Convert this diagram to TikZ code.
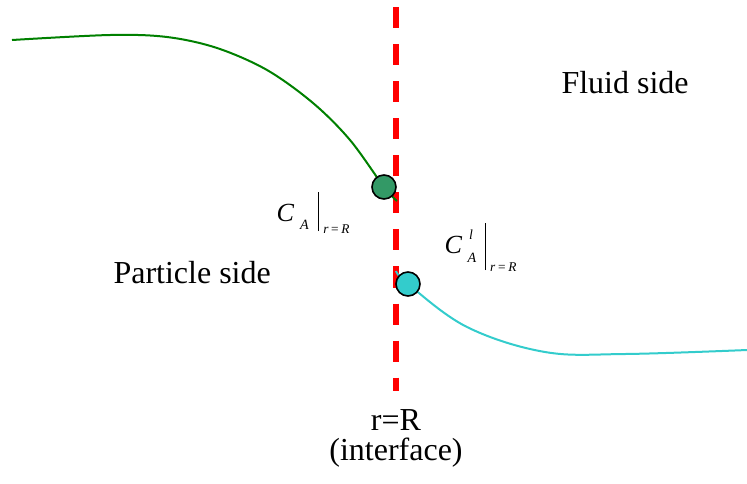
\documentclass[tikz,border=0pt]{standalone}
\usepackage{fontspec}
\setmainfont{Liberation Serif}
\usepackage{tikz}
\usetikzlibrary{positioning}
\definecolor{iface}{HTML}{FF0000}
\definecolor{solidline}{HTML}{008000}
\definecolor{solidfill}{HTML}{339966}
\definecolor{fluidline}{HTML}{33CCCC}

\begin{document}
\begin{tikzpicture}[
  x=0.375pt, y=-0.375pt,
  font=\fontsize{12}{13}\selectfont,
  txt/.style={inner sep=0pt, anchor=base west},
  lab/.style={inner sep=0pt, anchor=base west},
  dot/.style={circle, draw=black, line width=0.6pt, minimum size=9pt, inner sep=0pt},
  profile/.style={line width=0.75pt},
  wall/.style={draw=iface, line width=1.9pt, dash pattern=on 7.9pt off 6pt},
]
\useasboundingbox (0,0) rectangle (747,483);
% interface
\coordinate (top) at (396,7);
\coordinate (bot) at (396,391);
\draw[wall] (top) -- (bot);
% surface points
\coordinate (gs) at (384,187);
\coordinate (ls) at (408,284);
% concentration profiles
\draw[profile, solidline] plot[smooth, tension=0.55] coordinates {(12,40) (110,35) (167,37) (217,48) (267,70) (313,103) (350,140) (gs) (397,201)};
\draw[profile, fluidline] plot[smooth, tension=0.6] coordinates {(396,271) (ls) (467,327) (545,352) (625,354) (747,350)};
\node[dot, fill=solidfill] (csolid) at (gs) {};
\node[dot, fill=fluidline] (cfluid) at (ls) {};
% labels
\node[txt] (fluid) at (561,93) {Fluid side};
\node[txt] (particle) at (113,283) {Particle side};
\node[inner sep=0pt, anchor=base] (rR) at (396,430) {r=R};
\node[inner sep=0pt, anchor=base] (iftext) at (396,460) {(interface)};
\node[lab] (cAs) at (276,221) {\fontsize{9.8}{10}\selectfont\textit{C}\hspace{2.2pt}\raisebox{-3pt}{\fontsize{5.3}{6}\selectfont\textit{A}}\hspace{3.5pt}\raisebox{-3.75pt}{\rule{0.45pt}{14.6pt}}\hspace{1.5pt}\raisebox{-4.5pt}{\fontsize{5}{6}\selectfont\textit{r}\hspace{1pt}=\hspace{1pt}\textit{R}}};
\node[lab] (cAl) at (444,253) {\fontsize{9.8}{10}\selectfont\textit{C}\hspace{2pt}\rlap{\raisebox{5.2pt}{\fontsize{5.2}{6}\selectfont\hspace{0.6pt}\textit{l}}}\raisebox{-3.4pt}{\fontsize{5.3}{6}\selectfont\textit{A}}\hspace{3.3pt}\raisebox{-6.4pt}{\rule{0.45pt}{17.6pt}}\hspace{1.5pt}\raisebox{-6.75pt}{\fontsize{5}{6}\selectfont\textit{r}\hspace{1pt}=\hspace{1pt}\textit{R}}};
\end{tikzpicture}
\end{document}
